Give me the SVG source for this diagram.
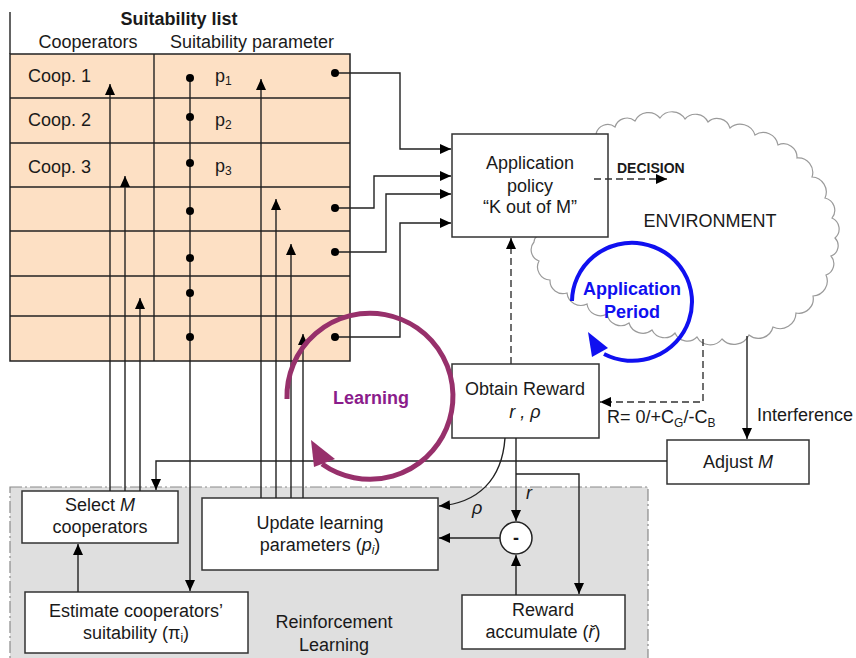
<svg xmlns="http://www.w3.org/2000/svg" width="856" height="658" viewBox="0 0 856 658">
  <style>
    text { font-family: "Liberation Sans", Arial, sans-serif; font-size: 18px; fill: #1a1a1a; }
    .c { text-anchor: middle; }
    .b { font-weight: bold; }
    .box { fill: #ffffff; stroke: #333333; stroke-width: 1.5; }
    .ln { fill: none; stroke: #222222; stroke-width: 1.4; }
    .dash { fill: none; stroke: #333333; stroke-width: 1.4; stroke-dasharray: 7,4; }
    .grid { stroke: #222222; stroke-width: 1.4; }
    .dot { fill: #000000; }
    .sub { font-size: 12px; }
  </style>
  <defs>
    <marker id="arr" markerUnits="userSpaceOnUse" markerWidth="11" markerHeight="10" refX="11" refY="5" orient="auto">
      <path d="M0,0 L11,5 L0,10 z" fill="#000"/>
    </marker>
  </defs>

  <!-- reinforcement learning area -->
  <g id="rl-area">
    <rect x="10" y="487" width="638" height="185" fill="#dfdfdf" stroke="#8a8a8a" stroke-width="1.2" stroke-dasharray="12,3,2,3"/>
    <text class="c" x="334" y="628">Reinforcement</text>
    <text class="c" x="334" y="651">Learning</text>
  </g>

  <!-- environment cloud -->
  <g id="environment">
    <path fill="#ffffff" stroke="#9a9a9a" stroke-width="1.2" d="M596,134 A12,12 0 0 1 615,127 A12.5,12.5 0 0 1 635,121 A15,15 0 0 1 660,118 A15,15 0 0 1 685,119 A14,14 0 0 1 708,122 A13.5,13.5 0 0 1 730,128 A15.5,15.5 0 0 1 755,135 A15,15 0 0 1 778,145 A13.5,13.5 0 0 1 797,158 A14.5,14.5 0 0 1 812,177 A15,15 0 0 1 825,198 A12.5,12.5 0 0 1 832,218 A12,12 0 0 1 835,238 A11,11 0 0 1 831,256 A12,12 0 0 1 826,275 A15,15 0 0 1 813,296 A14.5,14.5 0 0 1 796,313 A16,16 0 0 1 773,327 A15,15 0 0 1 749,335 A16.5,16.5 0 0 1 722,339 A15,15 0 0 1 697,337 A13.5,13.5 0 0 1 675,333 A14,14 0 0 1 652,330 A14.5,14.5 0 0 1 629,323 A14,14 0 0 1 607,314 A13.5,13.5 0 0 1 587,304 A14,14 0 0 1 567,293 A13,13 0 0 1 550,280 A13,13 0 0 1 539,261 A12,12 0 0 1 534,242 A9,9 0 0 1 545,234 Z"/>
    <text class="c" x="710" y="227">ENVIRONMENT</text>
    <path d="M572,301 A60,59 0 1 1 604,354" fill="none" stroke="#1010f0" stroke-width="4"/>
    <polygon points="588,332 608,348 592,357" fill="#1010f0"/>
    <text class="c b" x="632" y="295" style="fill:#1010f0">Application</text>
    <text class="c b" x="632" y="318" style="fill:#1010f0">Period</text>
  </g>

  <!-- suitability list -->
  <g id="suitability-list">
    <text class="c b" x="179" y="25">Suitability list</text>
    <text class="c" x="88" y="48">Cooperators</text>
    <text class="c" x="252" y="48">Suitability parameter</text>
    <line class="grid" x1="10" y1="12" x2="10" y2="54"/>
    <rect x="10" y="54" width="340" height="307" fill="#fde0c4" stroke="#222" stroke-width="1.5"/>
    <line class="grid" x1="10" y1="98" x2="350" y2="98"/>
    <line class="grid" x1="10" y1="143" x2="350" y2="143"/>
    <line class="grid" x1="10" y1="187" x2="350" y2="187"/>
    <line class="grid" x1="10" y1="231" x2="350" y2="231"/>
    <line class="grid" x1="10" y1="276" x2="350" y2="276"/>
    <line class="grid" x1="10" y1="316" x2="350" y2="316"/>
    <line class="grid" x1="154" y1="54" x2="154" y2="361"/>
    <text x="28" y="82">Coop. 1</text>
    <text x="28" y="126">Coop. 2</text>
    <text x="28" y="173">Coop. 3</text>
    <text x="215" y="82">p<tspan class="sub" dy="3">1</tspan></text>
    <text x="215" y="126">p<tspan class="sub" dy="3">2</tspan></text>
    <text x="215" y="172">p<tspan class="sub" dy="3">3</tspan></text>
  </g>

  <!-- process blocks -->
  <g id="application-policy">
    <rect class="box" x="452" y="134" width="156" height="103"/>
    <text class="c" x="530" y="169">Application</text>
    <text class="c" x="530" y="192">policy</text>
    <text class="c" x="530" y="213">“K out of M”</text>
  </g>
  <g id="decision">
    <text class="b" x="617" y="173" style="font-size:14px">DECISION</text>
  </g>
  <g id="obtain-reward">
    <rect class="box" x="452" y="364" width="147" height="74"/>
    <text class="c" x="525" y="395">Obtain Reward</text>
    <text class="c" x="525" y="418" style="font-style:italic">r , ρ</text>
  </g>
  <g id="adjust-m">
    <rect class="box" x="667" y="440" width="142" height="44"/>
    <text class="c" x="738" y="468">Adjust <tspan style="font-style:italic">M</tspan></text>
  </g>
  <g id="select-m">
    <rect class="box" x="22" y="491" width="156" height="52"/>
    <text class="c" x="100" y="511">Select <tspan style="font-style:italic">M</tspan></text>
    <text class="c" x="100" y="533">cooperators</text>
  </g>
  <g id="update-params">
    <rect class="box" x="202" y="498" width="236" height="72"/>
    <text class="c" x="320" y="529">Update learning</text>
    <text class="c" x="320" y="551">parameters (<tspan style="font-style:italic">p</tspan><tspan class="sub" dy="3" style="font-style:italic">i</tspan><tspan dy="-3">)</tspan></text>
  </g>
  <g id="estimate">
    <rect class="box" x="25" y="592" width="223" height="61"/>
    <text class="c" x="136" y="617">Estimate cooperators’</text>
    <text class="c" x="136" y="639">suitability (π<tspan class="sub" dy="3">i</tspan><tspan dy="-3">)</tspan></text>
  </g>
  <g id="reward-accumulate">
    <rect class="box" x="462" y="595" width="163" height="54"/>
    <text class="c" x="543" y="616">Reward</text>
    <text class="c" x="543" y="638">accumulate (<tspan style="font-style:italic">ř</tspan>)</text>
  </g>
  <g id="difference">
    <circle cx="516" cy="538" r="16" fill="#ffffff" stroke="#222" stroke-width="1.5"/>
    <text class="c b" x="516" y="544">-</text>
  </g>

  <!-- connectors -->
  <g id="connectors">
    <path class="ln" d="M110,491 V84" marker-end="url(#arr)"/>
    <path class="ln" d="M125,491 V176" marker-end="url(#arr)"/>
    <path class="ln" d="M140,491 V298" marker-end="url(#arr)"/>
    <path class="ln" d="M190,78 V591" marker-end="url(#arr)"/>
    <path class="ln" d="M261,498 V79" marker-end="url(#arr)"/>
    <path class="ln" d="M276,498 V199" marker-end="url(#arr)"/>
    <path class="ln" d="M291,498 V244" marker-end="url(#arr)"/>
    <path class="ln" d="M303,498 V334" marker-end="url(#arr)"/>
    <path class="ln" d="M335,73 H400 V149 H451" marker-end="url(#arr)"/>
    <path class="ln" d="M335,208 H374 V176 H451" marker-end="url(#arr)"/>
    <path class="ln" d="M335,252 H386 V194 H451" marker-end="url(#arr)"/>
    <path class="ln" d="M335,337 H400 V223 H451" marker-end="url(#arr)"/>
    <path class="dash" d="M594,179 H667" marker-end="url(#arr)"/>
    <path class="dash" d="M511,364 V238" marker-end="url(#arr)"/>
    <path class="dash" d="M703,339 V402 H600" marker-end="url(#arr)"/>
    <path class="ln" d="M747,336 V439" marker-end="url(#arr)"/>
    <path class="ln" d="M667,461 H156 V490" marker-end="url(#arr)"/>
    <path class="ln" d="M516,438 V521" marker-end="url(#arr)"/>
    <path class="ln" d="M516,474 H579 V594" marker-end="url(#arr)"/>
    <path class="ln" d="M505,438 C502,480 478,503 439,506" marker-end="url(#arr)"/>
    <path class="ln" d="M500,538 H439" marker-end="url(#arr)"/>
    <path class="ln" d="M516,595 V555" marker-end="url(#arr)"/>
    <path class="ln" d="M78,592 V544" marker-end="url(#arr)"/>
    <g class="dot">
      <circle cx="190" cy="78" r="4"/>
      <circle cx="190" cy="117" r="4"/>
      <circle cx="190" cy="163" r="4"/>
      <circle cx="190" cy="211" r="4"/>
      <circle cx="190" cy="258" r="4"/>
      <circle cx="190" cy="293" r="4"/>
      <circle cx="190" cy="337" r="4"/>
      <circle cx="335" cy="73" r="4"/>
      <circle cx="335" cy="208" r="4"/>
      <circle cx="335" cy="252" r="4"/>
      <circle cx="335" cy="337" r="4"/>
    </g>
    <text x="526" y="499" style="font-style:italic">r</text>
    <text x="472" y="514" style="font-style:italic">ρ</text>
    <text x="607" y="423">R= 0/+C<tspan class="sub" dy="4">G</tspan><tspan dy="-4">/-C</tspan><tspan class="sub" dy="4">B</tspan></text>
    <text x="757" y="421">Interference</text>
  </g>

  <!-- learning cycle -->
  <g id="learning-cycle">
    <path d="M287,399 A83,83 0 1 1 322,464" fill="none" stroke="#97306b" stroke-width="5"/>
    <polygon points="311,440 335,459 314,467" fill="#97306b"/>
    <text class="c b" x="371" y="404" style="fill:#8b1c8b">Learning</text>
  </g>
</svg>
